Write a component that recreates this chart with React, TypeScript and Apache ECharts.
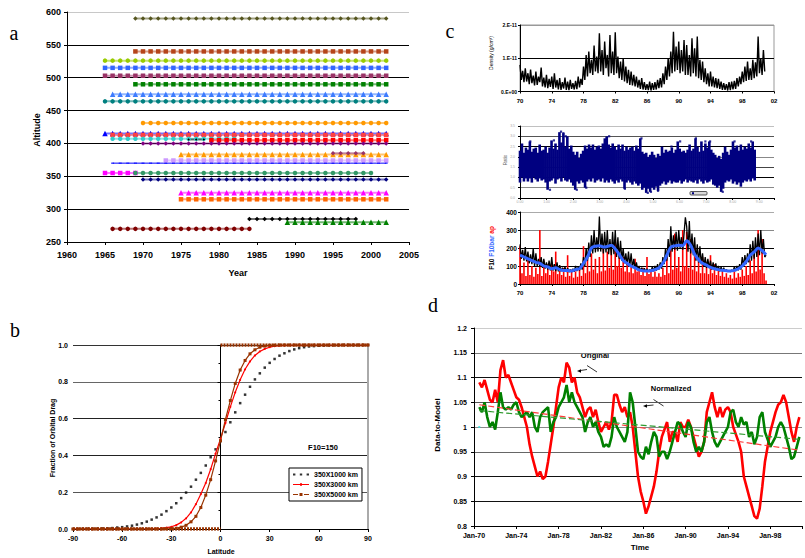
import React, { useEffect, useRef } from "react";
import * as echarts from "echarts";

const FONT = "Liberation Sans, Arial, sans-serif";

// ---------------- Panel a: satellite altitude coverage ----------------
const aAltitudes = [590, 540, 526, 515, 503, 490, 475, 464, 431, 415, 413, 407, 405, 406, 400, 383, 385, 374, 370, 355, 355, 345, 325, 315, 285, 280, 270];
const aStartYears = [1969, 1969, 1965, 1965, 1965, 1969, 1966, 1965, 1970, 1965, 1966, 1966, 1979, 1976, 1970, 1975, 1995, 1973, 1966, 1965, 1969, 1970, 1975, 1975, 1984, 1989, 1966];
const aEndYears = [2002, 2002, 2002, 2002, 2002, 2002, 2002, 2002, 2002, 2002, 2002, 1982, 2002, 1978, 2002, 2002, 1999, 2002, 2002, 1969, 2000, 2002, 2002, 2002, 1998, 2002, 1984];
const aColors = ["#55551f", "#b5451b", "#99cc00", "#3366ff", "#993366", "#008000", "#3d7cff", "#008080", "#ff9900", "#0000ff", "#ff4040", "#33cccc", "#ff0000", "#000000", "#800080", "#ff9900", "#993366", "#cc99ff", "#0000ff", "#ff00ff", "#339966", "#000080", "#ff00ff", "#ff6600", "#000000", "#008000", "#800000"];
const aSymbols = ["diamond", "rect", "circle", "rect", "rect", "rect", "triangle", "circle", "circle", "triangle", "rect", "circle", "rect", "diamond", "diamond", "triangle", "diamond", "rect", "rect", "rect", "circle", "diamond", "triangle", "rect", "diamond", "triangle", "circle"];
const aYearLabels = ["1960", "1965", "1970", "1975", "1980", "1985", "1990", "1995", "2000", "2005"];

// ---------------- Panel b: fraction of orbital drag ----------------
const bLatitudes = [-90, -87, -84, -81, -78, -75, -72, -69, -66, -63, -60, -57, -54, -51, -48, -45, -42, -39, -36, -33, -30, -27, -24, -21, -18, -15, -12, -9, -6, -3, 0, 3, 6, 9, 12, 15, 18, 21, 24, 27, 30, 33, 36, 39, 42, 45, 48, 51, 54, 57, 60, 63, 66, 69, 72, 75, 78, 81, 84, 87, 90];
const b1000 = [0.000, 0.000, 0.001, 0.001, 0.001, 0.002, 0.003, 0.004, 0.005, 0.008, 0.010, 0.014, 0.018, 0.024, 0.031, 0.040, 0.051, 0.063, 0.078, 0.097, 0.117, 0.140, 0.168, 0.198, 0.230, 0.268, 0.305, 0.345, 0.390, 0.433, 0.477, 0.527, 0.580, 0.634, 0.684, 0.730, 0.773, 0.813, 0.846, 0.877, 0.903, 0.924, 0.942, 0.955, 0.967, 0.976, 0.983, 0.988, 0.992, 0.994, 0.996, 0.997, 0.998, 0.999, 0.999, 1, 1, 1, 1, 1, 1];
const b3000 = [0, 0, 0, 0, 0, 0, 0, 0, 0, 0, 0, 0, 0, 0, 0, 0.000, 0.001, 0.002, 0.004, 0.007, 0.012, 0.021, 0.036, 0.058, 0.090, 0.135, 0.190, 0.250, 0.325, 0.410, 0.490, 0.576, 0.664, 0.743, 0.811, 0.868, 0.911, 0.943, 0.965, 0.979, 0.988, 0.994, 0.997, 0.998, 0.999, 1, 1, 1, 1, 1, 1, 1, 1, 1, 1, 1, 1, 1, 1, 1, 1];
const b5000 = [0, 0, 0, 0, 0, 0, 0, 0, 0, 0, 0, 0, 0, 0, 0, 0, 0, 0, 0.000, 0.001, 0.002, 0.004, 0.010, 0.020, 0.039, 0.069, 0.117, 0.184, 0.268, 0.370, 0.480, 0.595, 0.698, 0.791, 0.864, 0.916, 0.952, 0.974, 0.988, 0.994, 0.998, 0.999, 1, 1, 1, 1, 1, 1, 1, 1, 1, 1, 1, 1, 1, 1, 1, 1, 1, 1, 1];
const bStepLow = [[-90, 0], [0, 0]];
const bStepHigh = [[0, 1], [90, 1]];
const bLegendNames = ["350X1000 km", "350X3000 km", "350X5000 km"];

// ---------------- Panel c ----------------
const cYearTicks = ["70", "74", "78", "82", "86", "90", "94", "98", "02"];
const cBiMonth = 1 / 6; // years after 1970
const cQuarter = 0.25;
// density in units of 1e-11 g/cm3, every two months from 1970.0
const densityBiMonthly = [
  0.80, 0.35, 0.62, 0.28, 0.70, 0.30, 0.55, 0.22, 0.66, 0.25, 0.48, 0.18, 0.60, 0.20, 0.45, 0.28, 0.72, 0.15,
  0.42, 0.12, 0.50, 0.10, 0.38, 0.14, 0.45, 0.08, 0.55, 0.12, 0.35, 0.06, 0.40, 0.05, 0.28, 0.09, 0.42, 0.05,
  0.30, 0.04, 0.35, 0.08, 0.25, 0.06, 0.32, 0.07, 0.45, 0.12, 0.38, 0.20, 0.75, 0.35, 1.10, 0.45, 1.20, 0.55,
  0.95, 0.50, 1.38, 0.60, 1.05, 0.55, 1.75, 0.60, 1.25, 0.50, 1.50, 0.70, 1.10, 0.45, 1.70, 0.55, 1.20, 0.50,
  1.78, 0.55, 1.05, 0.40, 0.90, 0.35, 1.00, 0.30, 0.75, 0.25, 0.65, 0.20, 0.60, 0.18, 0.50, 0.15, 0.45, 0.12,
  0.35, 0.08, 0.40, 0.06, 0.28, 0.05, 0.22, 0.04, 0.30, 0.03, 0.25, 0.05, 0.28, 0.06, 0.35, 0.10, 0.40, 0.12,
  0.55, 0.22, 0.75, 0.35, 1.00, 0.45, 1.20, 0.55, 1.80, 0.60, 1.35, 0.65, 1.50, 0.55, 1.25, 0.60, 1.55, 0.50,
  1.40, 0.50, 1.10, 0.45, 1.60, 0.55, 1.30, 0.45, 1.65, 0.40, 0.95, 0.35, 0.90, 0.28, 0.70, 0.22, 0.55, 0.15,
  0.60, 0.15, 0.45, 0.12, 0.40, 0.10, 0.38, 0.08, 0.30, 0.05, 0.25, 0.05, 0.22, 0.03, 0.28, 0.04, 0.30, 0.06,
  0.32, 0.08, 0.40, 0.15, 0.45, 0.22, 0.60, 0.28, 0.75, 0.32, 0.90, 0.35, 0.70, 0.35, 0.95, 0.40, 0.88, 0.45,
  1.65, 0.55, 1.00, 0.50, 1.25, 0.60,
];
const densityTickLabels = ["0.E+00", "1.E-11", "2.E-11"];

// ratio cloud: quarterly envelope from 1970.0
const ratioHigh = [4.6, 5.3, 4.4, 4.9, 4.7, 5.5, 4.5, 4.8, 4.9, 4.4, 5.2, 4.6, 4.7, 5.0, 4.4, 4.9, 5.6, 4.8, 5.3, 4.7, 6.4, 5.4, 6.3, 5.0, 6.0, 4.8, 5.1, 4.5, 4.2, 4.5, 3.9, 4.3, 4.6, 5.1, 4.8, 5.2, 4.9, 5.2, 4.7, 5.0, 5.1, 4.8, 5.3, 5.8, 6.0, 5.2, 4.9, 5.3, 5.0, 4.7, 5.2, 4.8, 5.2, 4.6, 5.0, 4.7, 4.9, 5.0, 4.6, 5.1, 4.8, 5.8, 4.5, 4.3, 4.4, 4.0, 4.2, 4.5, 4.2, 3.9, 4.3, 4.1, 5.0, 4.4, 4.7, 4.5, 4.6, 4.9, 4.4, 4.7, 5.5, 4.8, 4.5, 4.6, 4.4, 4.7, 5.2, 4.6, 4.8, 5.8, 5.0, 4.5, 5.5, 4.6, 5.3, 4.9, 5.5, 4.7, 4.4, 4.2, 3.9, 4.1, 3.8, 4.4, 5.0, 4.5, 4.2, 4.7, 5.5, 4.9, 5.1, 4.6, 5.2, 4.7, 5.0, 4.8, 5.3, 4.9, 5.5, 4.7];
const ratioLow = [1.5, 2.0, 1.6, 1.9, 1.6, 1.9, 1.5, 2.0, 1.8, 1.6, 1.9, 1.7, 1.8, 1.5, 0.8, 1.6, 1.7, 1.9, 1.4, 1.8, 1.9, 1.6, 2.0, 1.7, 1.6, 1.8, 1.5, 1.2, 0.8, 1.6, 1.4, 1.7, 1.5, 1.0, 1.6, 1.8, 1.6, 1.9, 1.5, 1.7, 1.8, 1.6, 1.9, 1.5, 1.7, 1.5, 1.8, 1.6, 1.4, 1.7, 1.5, 1.8, 1.6, 0.9, 1.5, 1.7, 1.5, 1.3, 1.6, 1.4, 1.2, 1.4, 0.8, 1.0, 0.5, 0.9, 0.6, 1.0, 0.8, 1.1, 0.7, 1.2, 1.4, 1.6, 1.3, 1.5, 1.7, 1.4, 1.6, 1.5, 1.5, 1.7, 1.4, 1.6, 1.8, 1.5, 1.7, 1.6, 1.5, 1.7, 1.4, 1.8, 1.6, 1.4, 1.7, 1.5, 1.6, 1.8, 1.3, 1.2, 1.0, 1.2, 0.6, 0.9, 1.5, 1.7, 1.6, 1.8, 1.4, 1.6, 1.3, 1.5, 1.1, 1.5, 1.7, 1.6, 1.8, 1.6, 1.9, 1.7];
const ratioOutliers = [[1.3, 5.5], [2.5, 5.0], [4.3, 5.6], [5.2, 6.45], [5.5, 6.3], [5.8, 6.0], [11.0, 5.8], [11.3, 6.0], [15.4, 5.8], [19.2, 5.0], [20.3, 5.5], [22.3, 5.8], [23.5, 5.5], [24.1, 5.5], [27.2, 5.5], [29.3, 5.5], [3.8, 0.8], [7.2, 0.8], [8.4, 1.0], [13.3, 0.9], [16.2, 0.5], [16.6, 0.6], [17.5, 0.7], [25.5, 0.75], [25.7, 0.6]];
const ratioXTickLabels = ["0.00", "1.00", "2.00", "3.00", "4.00", "5.00", "6.00", "7.00", "8.00", "9.00"];
const ratioYTickLabels = ["0.0", "0.5", "1.0", "1.5", "2.0", "2.5", "3.0", "3.5"];
const ratioXInterval = 3.37;

// F10 (every two months), F10bar (half-year), ap (quarterly, scaled)
const f10BiMonthly = [
  220, 140, 190, 130, 205, 125, 180, 115, 165, 110, 200, 100, 170, 100, 140, 95, 150, 90,
  140, 85, 120, 80, 130, 75, 150, 75, 110, 72, 120, 70, 105, 70, 90, 68, 95, 67,
  88, 66, 80, 67, 85, 68, 100, 72, 95, 75, 115, 80, 150, 100, 200, 130, 230, 150,
  270, 170, 300, 175, 260, 180, 375, 180, 280, 170, 290, 175, 300, 165, 250, 160, 290, 165,
  300, 150, 260, 140, 240, 130, 200, 115, 170, 105, 180, 100, 170, 90, 140, 85, 120, 78,
  100, 72, 90, 70, 88, 68, 85, 68, 80, 69, 95, 70, 100, 75, 110, 80, 120, 85,
  150, 110, 200, 130, 250, 150, 320, 180, 270, 190, 290, 185, 300, 200, 260, 190, 280, 370,
  320, 180, 350, 170, 280, 160, 260, 130, 220, 120, 210, 110, 170, 95, 150, 90, 140, 88,
  130, 80, 120, 78, 115, 75, 100, 70, 95, 69, 90, 68, 80, 68, 76, 67, 78, 70,
  95, 72, 100, 76, 110, 80, 150, 100, 160, 110, 170, 120, 220, 130, 240, 140, 260, 150,
  280, 160, 300, 170, 250, 150, 160,
];
const f10barHalfYear = [160, 150, 140, 130, 120, 115, 100, 95, 85, 90, 80, 75, 75, 72, 80, 85, 115, 150, 200, 210, 212, 205, 208, 215, 195, 165, 130, 115, 100, 90, 78, 73, 72, 74, 80, 90, 115, 160, 205, 212, 215, 212, 240, 215, 165, 135, 115, 105, 92, 85, 80, 76, 73, 72, 76, 85, 100, 125, 160, 178, 200, 185, 163];
const apQuarterly = [210, 60, 120, 45, 150, 50, 100, 40, 90, 55, 300, 45, 130, 60, 110, 50, 120, 70, 180, 55, 100, 50, 90, 40, 160, 45, 80, 35, 70, 40, 90, 45, 210, 60, 150, 70, 170, 80, 140, 60, 150, 70, 200, 75, 180, 90, 210, 80, 250, 100, 200, 90, 150, 70, 120, 65, 110, 60, 140, 70, 100, 50, 90, 45, 150, 55, 80, 40, 70, 40, 60, 40, 90, 50, 160, 60, 200, 80, 280, 90, 150, 70, 300, 100, 290, 90, 250, 80, 200, 70, 130, 60, 150, 60, 120, 55, 160, 60, 110, 50, 80, 45, 70, 40, 60, 35, 50, 30, 70, 35, 60, 40, 80, 45, 100, 50, 130, 60, 160, 70, 300, 80, 250, 60, 20];

// ---------------- Panel d: data-to-model ----------------
const dStart = 0.5; // years after Jan-70
const dOriginal = [1.09, 1.08, 1.095, 1.075, 1.055, 1.05, 1.075, 1.05, 1.115, 1.135, 1.10, 1.105, 1.09, 1.075, 1.06, 1.055, 1.04, 1.02, 1.00, 0.965, 0.94, 0.92, 0.90, 0.91, 0.895, 0.90, 0.93, 0.965, 1.00, 1.04, 1.08, 1.10, 1.09, 1.13, 1.12, 1.09, 1.10, 1.07, 1.06, 1.04, 1.02, 1.035, 1.04, 1.02, 1.035, 1.01, 0.99, 1.00, 1.01, 0.995, 1.01, 1.065, 1.065, 1.045, 1.03, 1.04, 1.02, 1.03, 1.00, 0.95, 0.90, 0.87, 0.85, 0.825, 0.84, 0.86, 0.88, 0.91, 0.95, 0.98, 0.995, 1.01, 0.97, 0.99, 0.99, 0.97, 1.01, 1.00, 1.00, 1.015, 1.00, 0.98, 0.96, 0.94, 0.95, 0.97, 1.03, 1.05, 1.07, 1.04, 1.02, 1.04, 1.02, 1.035, 1.04, 1.03, 1.00, 0.985, 0.97, 0.95, 0.90, 0.88, 0.86, 0.84, 0.82, 0.815, 0.835, 0.88, 0.93, 0.96, 0.99, 1.01, 1.03, 1.045, 1.05, 1.065, 1.05, 1.02, 0.99, 0.97, 1.00, 1.02];
const dNormalized = [1.04, 1.03, 1.05, 1.02, 1.00, 1.01, 0.995, 1.03, 1.07, 1.04, 1.035, 1.04, 1.035, 1.045, 1.05, 1.03, 1.02, 1.025, 1.03, 1.02, 1.03, 1.00, 0.99, 1.02, 1.03, 1.035, 1.04, 0.99, 1.01, 1.02, 1.04, 1.05, 1.06, 1.085, 1.05, 1.07, 1.05, 1.04, 1.03, 1.02, 0.99, 1.01, 1.02, 1.00, 1.01, 0.99, 0.98, 0.96, 0.965, 0.96, 0.98, 1.02, 1.00, 0.99, 0.98, 0.97, 0.99, 1.07, 1.05, 1.00, 0.95, 0.94, 0.935, 0.96, 0.945, 0.97, 0.99, 0.98, 0.94, 0.95, 0.95, 0.935, 0.95, 0.97, 0.99, 1.01, 1.005, 0.99, 0.98, 1.01, 1.00, 0.97, 0.95, 0.96, 0.95, 0.97, 1.01, 1.02, 0.99, 0.97, 0.96, 0.97, 0.98, 0.99, 1.00, 1.03, 1.035, 1.01, 1.00, 1.02, 1.005, 1.01, 0.98, 0.99, 0.965, 0.98, 1.02, 1.03, 0.99, 0.975, 0.96, 0.97, 0.98, 1.00, 1.01, 1.00, 0.98, 0.96, 0.935, 0.94, 0.96, 0.98];
const dTrendOriginal = [[0.5, 1.045], [30.8, 0.953]];
const dTrendNormalized = [[0.5, 1.033], [30.8, 0.975]];
const dCyanMark = [[0.5, 1.0]];
const dTimeTicks = ["Jan-70", "Jan-74", "Jan-78", "Jan-82", "Jan-86", "Jan-90", "Jan-94", "Jan-98"];

// ---------------- helpers ----------------
const byStep = (vals: number[], start: number, step: number) => vals.map((v, i) => [start + i * step, v]);
const tickLabel = (list: string[], step: number) => (v: number) => {
  const k = Math.round(v / step);
  return Math.abs(v - k * step) < 1e-6 && list[k] !== undefined ? list[k] : "";
};
const lbl = (size: number, extra: any = {}) => ({ fontSize: size, fontWeight: "bold", color: "#000", fontFamily: FONT, ...extra });
const blackLine = { show: true, lineStyle: { color: "#000", width: 1 } };

function text(x: number, y: number, t: string, font: string, rot = 0, extra: any = {}) {
  return {
    type: "text", x, y, rotation: rot, silent: true,
    style: { text: t, font, fill: "#000", align: "center", verticalAlign: "middle", textAlign: "center", textVerticalAlign: "middle", ...extra },
  };
}

function buildOption(): any {
  const series: any[] = [];

  // panel a
  aAltitudes.forEach((alt, i) => {
    const pts: number[][] = [];
    for (let y = aStartYears[i]; y <= aEndYears[i]; y++) pts.push([y, alt]);
    const sym = aSymbols[i];
    let size: any = sym === "triangle" ? 5.5 : 4.5;
    if (i === 18) size = [3, 1];
    if (i === 13) size = 2.5;
    series.push({
      type: "line", xAxisIndex: 0, yAxisIndex: 0, data: pts, symbol: sym, symbolSize: size, silent: true,
      lineStyle: { color: aColors[i], width: i === 18 ? 1 : 2, opacity: i === 18 ? 1 : 0.55 },
      itemStyle: { color: aColors[i] },
    });
  });

  // panel b
  series.push({
    name: bLegendNames[0], type: "scatter", xAxisIndex: 1, yAxisIndex: 1,
    data: bLatitudes.map((x, i) => [x, b1000[i]]), symbol: "rect", symbolSize: 2.5, itemStyle: { color: "#000" },
  });
  series.push({
    name: bLegendNames[1], type: "line", xAxisIndex: 1, yAxisIndex: 1,
    data: bLatitudes.map((x, i) => [x, b3000[i]]), symbol: "circle", symbolSize: 2,
    lineStyle: { color: "#ff0000", width: 1.2 }, itemStyle: { color: "#ff0000" },
  });
  series.push({
    name: bLegendNames[2], type: "line", xAxisIndex: 1, yAxisIndex: 1,
    data: bLatitudes.map((x, i) => [x, b5000[i]]), symbol: "rect", symbolSize: 3,
    lineStyle: { color: "#993300", width: 1.2 }, itemStyle: { color: "#993300" },
  });
  [bStepLow, bStepHigh].forEach((d) =>
    series.push({
      type: "line", xAxisIndex: 1, yAxisIndex: 1, data: d, symbol: "none",
      lineStyle: { color: "#993300", width: 3.5, type: [2, 1] },
    })
  );

  // panel c1 density
  series.push({
    type: "line", xAxisIndex: 2, yAxisIndex: 2, data: byStep(densityBiMonthly, 0, cBiMonth),
    symbol: "none", lineStyle: { color: "#000", width: 1.4 },
  });

  // panel c2 ratio cloud (vertical spans from low to high envelope)
  series.push({
    type: "custom", xAxisIndex: 3, yAxisIndex: 3,
    data: ratioLow.map((lo, i) => [i * cQuarter, lo, ratioHigh[i]]),
    encode: { x: 0, y: [1, 2] },
    renderItem: (_p: any, api: any) => {
      const x = api.value(0);
      const top = api.coord([x, api.value(2)]);
      const bot = api.coord([x, api.value(1)]);
      return {
        type: "rect",
        shape: { x: top[0] - 1.3, y: top[1], width: 2.6, height: bot[1] - top[1] },
        style: { fill: "#000080" },
      };
    },
  });
  series.push({
    type: "scatter", xAxisIndex: 3, yAxisIndex: 3, data: ratioOutliers, symbol: "rect", symbolSize: 2.2,
    itemStyle: { color: "#000080" },
  });

  // panel c3 F10 / F10bar / ap
  series.push({
    type: "line", xAxisIndex: 4, yAxisIndex: 4, data: byStep(f10BiMonthly, 0, cBiMonth),
    symbol: "none", lineStyle: { color: "#000", width: 1.3 },
  });
  series.push({
    type: "line", xAxisIndex: 4, yAxisIndex: 4, data: byStep(f10barHalfYear, 0, 0.5), smooth: 0.3,
    symbol: "none", lineStyle: { color: "#3366ff", width: 3 },
  });
  series.push({
    type: "bar", xAxisIndex: 4, yAxisIndex: 4, data: byStep(apQuarterly, 0, cQuarter),
    barWidth: 1.6, itemStyle: { color: "#ff0000" },
  });

  // panel d
  series.push({
    type: "line", xAxisIndex: 5, yAxisIndex: 5, data: byStep(dOriginal, dStart, 0.25),
    symbol: "none", lineStyle: { color: "#ff0000", width: 2.6 },
  });
  series.push({
    type: "line", xAxisIndex: 5, yAxisIndex: 5, data: byStep(dNormalized, dStart, 0.25),
    symbol: "none", lineStyle: { color: "#008000", width: 2.6 },
  });
  series.push({
    type: "line", xAxisIndex: 5, yAxisIndex: 5, data: dTrendOriginal, symbol: "none",
    lineStyle: { color: "#ff3b3b", width: 1.2, type: [6, 3] },
  });
  series.push({
    type: "line", xAxisIndex: 5, yAxisIndex: 5, data: dTrendNormalized, symbol: "none",
    lineStyle: { color: "#2f9a2f", width: 1.2, type: [6, 3] },
  });
  series.push({
    type: "scatter", xAxisIndex: 5, yAxisIndex: 5, data: dCyanMark, symbol: "rect", symbolSize: 2,
    itemStyle: { color: "#33dddd" },
  });

  const grids = [
    { left: 67, top: 12, width: 342, height: 230 },
    { left: 73, top: 345, width: 295, height: 184 },
    { left: 520, top: 25, width: 254, height: 66.5, show: true, borderColor: "#999", borderWidth: 1 },
    { left: 520, top: 126, width: 254, height: 72 },
    { left: 520, top: 212, width: 254, height: 72 },
    { left: 474, top: 328, width: 331, height: 198 },
  ];

  const xAxis = [
    {
      gridIndex: 0, type: "value", min: 1960, max: 2005, interval: 5, axisLine: blackLine,
      axisTick: { show: true, length: 3, lineStyle: { color: "#000" } },
      axisLabel: { ...lbl(9), margin: 8, formatter: (v: number) => aYearLabels[Math.round((v - 1960) / 5)] ?? "" },
      splitLine: { show: false },
    },
    {
      gridIndex: 1, type: "value", min: -90, max: 90, interval: 30, axisLine: blackLine,
      axisTick: { show: true, length: 3, lineStyle: { color: "#000" } },
      axisLabel: { ...lbl(7), margin: 6 }, splitLine: { show: false },
    },
    {
      gridIndex: 2, type: "value", min: 0, max: 32, interval: 4, axisLine: blackLine,
      axisTick: { show: true, length: 2, lineStyle: { color: "#000" } },
      axisLabel: { ...lbl(6), margin: 6, formatter: tickLabel(cYearTicks, 4) }, splitLine: { show: false },
    },
    {
      gridIndex: 3, type: "value", min: 0, max: 32.2, interval: ratioXInterval, axisLine: blackLine,
      axisTick: { show: true, length: 2, lineStyle: { color: "#000" } },
      axisLabel: { fontSize: 3.5, color: "#aaa", fontFamily: FONT, margin: 2, formatter: tickLabel(ratioXTickLabels, ratioXInterval) },
      splitLine: { show: false },
    },
    {
      gridIndex: 4, type: "value", min: 0, max: 32, interval: 4, axisLine: blackLine,
      axisTick: { show: true, length: 2, lineStyle: { color: "#000" } },
      axisLabel: { ...lbl(6), margin: 6, formatter: tickLabel(cYearTicks, 4) }, splitLine: { show: false },
    },
    {
      gridIndex: 5, type: "value", min: 0, max: 31, interval: 4, axisLine: blackLine,
      axisTick: { show: true, length: 3, lineStyle: { color: "#000" } },
      axisLabel: { ...lbl(7), margin: 6, formatter: tickLabel(dTimeTicks, 4) }, splitLine: { show: false },
    },
  ];

  const yAxis = [
    {
      gridIndex: 0, type: "value", min: 250, max: 600, interval: 50, axisLine: blackLine,
      axisTick: { show: true, length: 3, lineStyle: { color: "#000" } },
      axisLabel: { ...lbl(9), margin: 6 },
      splitLine: { show: true, lineStyle: { color: ["#000", "#000", "#000", "#000", "#000", "#000", "#000", "#c8c8c8"], width: 1 } },
    },
    {
      gridIndex: 1, type: "value", min: 0, max: 1, interval: 0.2, axisLine: blackLine,
      axisTick: { show: true, length: 3, lineStyle: { color: "#000" } },
      minorTick: { show: true, splitNumber: 2, length: 2, lineStyle: { color: "#000" } },
      axisLabel: { ...lbl(7), margin: 5, formatter: (v: number) => v.toFixed(1) },
      splitLine: { show: true, lineStyle: { color: ["#000", "#555", "#222", "#222", "#666", "#333"], width: 1 } },
    },
    {
      gridIndex: 2, type: "value", min: 0, max: 2, interval: 1, axisLine: blackLine,
      axisTick: { show: true, length: 2, lineStyle: { color: "#000" } },
      axisLabel: { ...lbl(5), margin: 3, formatter: (v: number) => densityTickLabels[Math.round(v)] ?? "" },
      splitLine: { show: true, lineStyle: { color: ["#000", "#000", "#999"], width: 1 } },
    },
    {
      gridIndex: 3, type: "value", min: 0, max: 7, interval: 1, axisLine: blackLine,
      axisTick: { show: true, length: 2, lineStyle: { color: "#000" } },
      axisLabel: { fontSize: 3.5, color: "#aaa", fontFamily: FONT, margin: 5, formatter: (v: number) => ratioYTickLabels[Math.round(v)] ?? "" },
      splitLine: { show: true, lineStyle: { color: ["#000", "#888", "#000", "#444", "#888", "#000", "#555", "#c0c0c0"], width: 1.2 } },
    },
    {
      gridIndex: 4, type: "value", min: 0, max: 400, interval: 100, axisLine: blackLine,
      axisTick: { show: true, length: 2, lineStyle: { color: "#000" } },
      axisLabel: { ...lbl(6.5), margin: 3 },
      splitLine: { show: true, lineStyle: { color: ["#000", "#000", "#000", "#888", "#aaa"], width: 1 } },
    },
    {
      gridIndex: 5, type: "value", min: 0.8, max: 1.2, interval: 0.05, axisLine: blackLine,
      axisTick: { show: true, length: 3, lineStyle: { color: "#000" } },
      axisLabel: { ...lbl(7), margin: 7, formatter: (v: number) => String(Math.round(v * 100) / 100) },
      splitLine: { show: true, lineStyle: { color: ["#000", "#111", "#111", "#666", "#888", "#555", "#111", "#777", "#cccccc"], width: 1 } },
    },
    {
      gridIndex: 1, type: "value", position: "right", min: 0, max: 1, interval: 0.2,
      axisLine: { show: true, lineStyle: { color: "#aaa", width: 2 } },
      axisTick: { show: false }, axisLabel: { show: false }, splitLine: { show: false },
    },
  ];

  const arrow = (pts: number[][]) => ({
    type: "polyline", silent: true, shape: { points: pts }, style: { stroke: "#000", lineWidth: 0.8, fill: null },
  });
  const head = (x: number, y: number) => ({
    type: "polygon", silent: true, shape: { points: [[x, y], [x + 4, y - 1.8], [x + 4, y + 1.8]] }, style: { fill: "#000" },
  });

  const graphic = [
    text(14, 33, "a", "20px Liberation Serif"),
    text(15, 330, "b", "20px Liberation Serif"),
    text(450, 31, "c", "20px Liberation Serif"),
    text(433, 305, "d", "20px Liberation Serif"),
    text(238, 273, "Year", `bold 9px ${FONT}`),
    text(37, 130, "Altitude", `bold 9px ${FONT}`, Math.PI / 2),
    text(221, 551, "Latitude", `bold 7px ${FONT}`),
    text(52, 438, "Fraction of Orbital Drag", `bold 7px ${FONT}`, Math.PI / 2),
    text(323, 447, "F10=150", `bold 7.5px ${FONT}`),
    text(491, 53, "Density (g/cm³)", `5px ${FONT}`, Math.PI / 2),
    text(505, 160, "Ratio", `4.5px ${FONT}`, Math.PI / 2, { fill: "#666" }),
    {
      type: "text", x: 491, y: 248, rotation: Math.PI / 2, silent: true,
      style: {
        text: "{k|F10} {b|F10bar} {r|ap}", font: `bold 6.5px ${FONT}`, align: "center", verticalAlign: "middle",
        textAlign: "center", textVerticalAlign: "middle",
        rich: { k: { fill: "#000", font: `bold 6.5px ${FONT}` }, b: { fill: "#3366ff", font: `bold 6.5px ${FONT}` }, r: { fill: "#ff0000", font: `bold 6.5px ${FONT}` } },
      },
    },
    { type: "rect", silent: true, shape: { x: 690, y: 191.5, width: 17, height: 3.5, r: 1 }, style: { fill: "#d8d8d8", stroke: "#333", lineWidth: 0.8 } },
    { type: "rect", silent: true, shape: { x: 692, y: 192.3, width: 2, height: 2 }, style: { fill: "#000080" } },
    text(437, 425, "Data-to-Model", `bold 8px ${FONT}`, Math.PI / 2),
    text(640, 547, "Time", `bold 8px ${FONT}`),
    text(595, 355, "Original", `bold 7.5px ${FONT}`),
    text(671, 388, "Normalized", `bold 7.5px ${FONT}`),
    arrow([[597, 372], [587, 365.5]]),
    arrow([[587, 369.5], [580, 370.6]]),
    head(577, 371),
    arrow([[663.5, 406], [653.5, 399.5]]),
    arrow([[653.5, 405], [646, 405.8]]),
    head(643, 406),
  ];

  return {
    animation: false,
    backgroundColor: "#fff",
    textStyle: { fontFamily: FONT },
    grid: grids,
    xAxis,
    yAxis,
    legend: {
      data: [
        { name: bLegendNames[0], icon: "path://M0,2h2.4v2h-2.4zM6.8,2h2.4v2h-2.4zM13.6,2h2.4v2h-2.4z" },
        { name: bLegendNames[1], icon: "path://M0,2.6h16v0.8h-16zM7,1.8h2v2.4h-2z" },
        { name: bLegendNames[2], icon: "path://M0,2.6h5v0.8h-5zM6.5,1.5h3v3h-3zM11,2.6h5v0.8h-5z" },
      ],
      left: 289, top: 468, orient: "vertical", itemWidth: 16, itemHeight: 6, itemGap: 3,
      padding: [3, 4, 3, 4], borderColor: "#000", borderWidth: 1, backgroundColor: "#fff",
      textStyle: { fontSize: 7, fontWeight: "bold", color: "#000", fontFamily: FONT }, selectedMode: false,
    },
    graphic,
    series,
  };
}

export default function App() {
  const ref = useRef<HTMLDivElement>(null);
  useEffect(() => {
    if (!ref.current) return;
    const chart = echarts.init(ref.current, null, { renderer: "svg" });
    chart.setOption(buildOption());
    return () => chart.dispose();
  }, []);
  return (
    <div
      ref={ref}
      style={{ position: "absolute", left: 0, top: 0, width: 805, height: 558, background: "#fff" }}
    />
  );
}
